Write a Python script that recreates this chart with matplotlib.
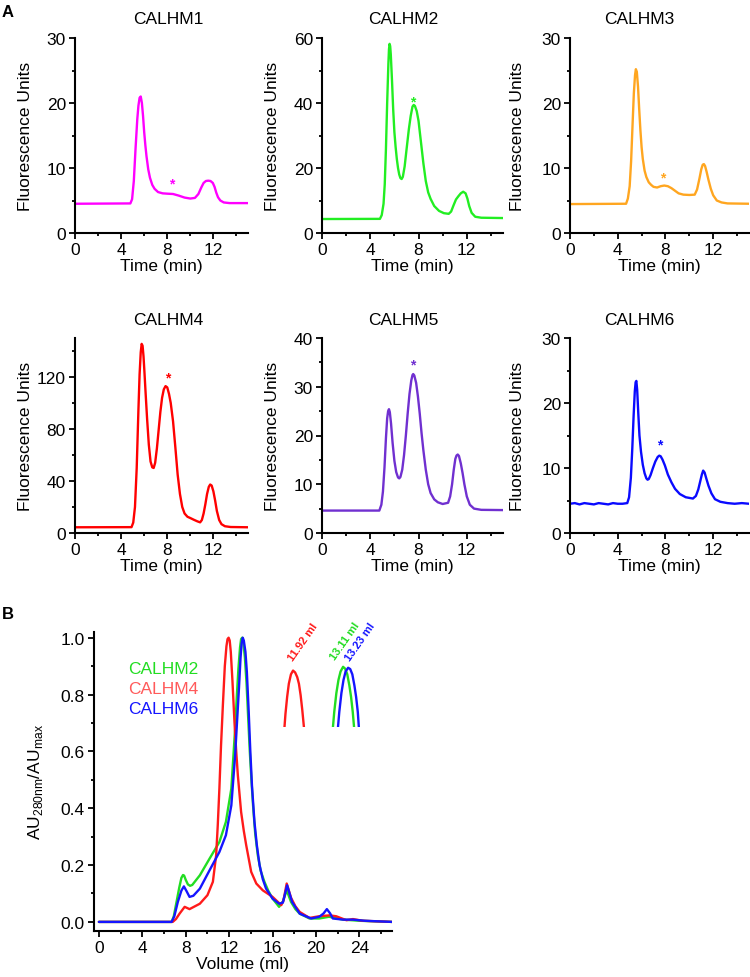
import matplotlib
matplotlib.use("Agg")
import matplotlib.pyplot as plt
from matplotlib.ticker import MultipleLocator, FormatStrFormatter

plt.rcParams["font.family"] = ["Liberation Sans", "DejaVu Sans"]
plt.rcParams["lines.solid_joinstyle"] = "round"
plt.rcParams["lines.solid_capstyle"] = "round"

# ---- panel A: FSEC traces (time in min, fluorescence units) ----
names = ["CALHM1", "CALHM2", "CALHM3", "CALHM4", "CALHM5", "CALHM6"]
colors = ["#ff00ff", "#22ee22", "#ffa620", "#ff0000", "#7030d0", "#0a0aff"]
ylims = [30, 60, 30, 150, 40, 30]
ymajor = [10, 20, 10, 40, 10, 10]

t1 = [0, 4.8, 4.95, 5.1, 5.25, 5.4, 5.5, 5.6, 5.7, 5.8, 5.9, 6.0, 6.1, 6.2, 6.35, 6.5, 6.7, 6.9, 7.2, 7.6,
      8.0, 8.5, 9.0, 9.5, 10.0, 10.4, 10.7, 10.95, 11.15, 11.35, 11.55, 11.75, 11.95, 12.1, 12.25, 12.4,
      12.6, 12.9, 13.4, 15]
f1 = [4.5, 4.55, 5.2, 8.0, 13.0, 17.5, 19.6, 20.8, 21.0, 20.0, 18.0, 15.5, 13.5, 11.8, 9.8, 8.5, 7.4, 6.8, 6.3, 6.1,
      6.05, 6.0, 5.75, 5.45, 5.3, 5.4, 6.0, 7.0, 7.7, 8.0, 8.05, 8.0, 7.7, 7.1, 6.2, 5.5,
      5.0, 4.7, 4.6, 4.6]

t2 = [0, 4.8, 4.95, 5.1, 5.2, 5.3, 5.4, 5.5, 5.55, 5.6, 5.65, 5.7, 5.8, 5.9, 6.0, 6.1, 6.2, 6.3, 6.4, 6.5,
      6.6, 6.7, 6.85, 7.0, 7.2, 7.35, 7.5, 7.6, 7.7, 7.85, 8.0, 8.2, 8.4, 8.6, 8.8, 9.0, 9.3, 9.7, 10.1, 10.5,
      10.7, 10.9, 11.1, 11.3, 11.5, 11.7, 11.9, 12.05, 12.2, 12.4, 12.7, 13.2, 15]
f2 = [4.3, 4.35, 5.5, 9.0, 15.0, 26.0, 40.0, 52.0, 56.5, 58.2, 57.5, 55.0, 47.0, 38.0, 31.0, 26.5, 22.8, 20.0, 18.0, 16.9,
      16.6, 17.3, 20.5, 25.5, 32.0, 36.0, 38.9, 39.4, 39.1, 37.5, 34.5, 28.0, 21.5, 16.0, 12.5, 10.5, 8.3, 6.8, 6.1, 5.9,
      6.6, 8.5, 10.3, 11.3, 12.2, 12.7, 12.2, 10.6, 8.3, 6.2, 5.0, 4.7, 4.6]

t3 = [0, 4.7, 4.85, 5.0, 5.12, 5.25, 5.35, 5.45, 5.52, 5.6, 5.7, 5.8, 5.9, 6.0, 6.1, 6.25, 6.4, 6.6, 6.8, 7.0,
      7.3, 7.6, 7.9, 8.2, 8.5, 8.8, 9.1, 9.5, 10.0, 10.45, 10.65, 10.85, 11.0, 11.12, 11.22, 11.32, 11.45, 11.6,
      11.8, 12.0, 12.3, 12.7, 13.2, 15]
f3 = [4.45, 4.5, 5.3, 7.2, 11.0, 17.0, 21.5, 24.3, 25.2, 24.8, 22.5, 19.0, 15.8, 13.2, 11.4, 9.6, 8.6, 7.8, 7.4, 7.1,
      7.0, 7.2, 7.3, 7.2, 6.9, 6.5, 6.1, 5.9, 5.85, 5.9, 6.7, 8.4, 9.8, 10.5, 10.6, 10.3, 9.4, 8.2,
      6.8, 5.8, 5.0, 4.7, 4.55, 4.5]

t4 = [0, 4.9, 5.05, 5.2, 5.35, 5.5, 5.6, 5.7, 5.78, 5.86, 5.94, 6.02, 6.12, 6.25, 6.4, 6.55, 6.7, 6.82, 6.95, 7.1,
      7.25, 7.4, 7.55, 7.7, 7.85, 8.0, 8.15, 8.3, 8.5, 8.7, 8.9, 9.1, 9.3, 9.5, 9.75, 10.0, 10.3, 10.6, 10.85, 11.0,
      11.15, 11.3, 11.45, 11.6, 11.72, 11.85, 12.0, 12.15, 12.3, 12.5, 12.7, 13.0, 13.5, 15]
f4 = [4.4, 4.5, 8.0, 20.0, 50.0, 95.0, 122.0, 139.0, 145.5, 144.0, 136.0, 124.0, 108.0, 88.0, 68.0, 55.0, 50.5, 50.0, 54.0, 65.0,
      79.0, 93.0, 104.0, 110.5, 113.0, 112.0, 107.0, 100.0, 86.0, 66.0, 45.0, 30.0, 20.0, 15.0, 12.5, 11.5, 10.2, 9.0, 8.2, 10.0,
      15.0, 22.0, 30.0, 35.5, 37.3, 36.5, 32.0, 25.0, 17.0, 10.0, 6.8, 5.2, 4.6, 4.4]

t5 = [0, 4.75, 4.92, 5.05, 5.18, 5.3, 5.4, 5.48, 5.55, 5.62, 5.72, 5.85, 6.0, 6.15, 6.3, 6.4, 6.5, 6.65, 6.8, 6.95,
      7.1, 7.25, 7.4, 7.5, 7.56, 7.65, 7.8, 7.95, 8.1, 8.25, 8.4, 8.6, 8.8, 9.0, 9.3, 9.6, 10.0, 10.45, 10.62, 10.78,
      10.92, 11.05, 11.15, 11.25, 11.35, 11.5, 11.65, 11.8, 12.0, 12.25, 12.6, 13.2, 15]
f5 = [4.6, 4.6, 5.8, 8.5, 13.5, 19.5, 23.5, 25.0, 25.4, 24.8, 22.5, 18.5, 14.8, 12.5, 11.4, 11.2, 11.5, 13.0, 16.0, 20.0,
      24.5, 28.5, 31.3, 32.4, 32.6, 32.3, 30.8, 28.0, 24.5, 20.5, 17.0, 13.0, 10.0, 8.2, 6.9, 6.3, 5.95, 6.2, 7.5, 10.0,
      13.0, 15.2, 15.9, 16.1, 15.8, 14.3, 12.3, 10.0, 7.5, 5.8, 5.0, 4.75, 4.7]

t6 = [0, 0.4, 0.8, 1.2, 1.6, 2.0, 2.4, 2.8, 3.2, 3.6, 4.0, 4.4, 4.8, 4.95, 5.1, 5.22, 5.33, 5.43, 5.5, 5.56,
      5.63, 5.72, 5.82, 5.95, 6.1, 6.25, 6.4, 6.5, 6.6, 6.75, 6.95, 7.15, 7.35, 7.48, 7.6, 7.75, 7.95, 8.2, 8.5, 8.8,
      9.2, 9.7, 10.3, 10.55, 10.75, 10.92, 11.05, 11.16, 11.28, 11.42, 11.6, 11.85, 12.15, 12.6, 13.2, 13.8, 14.4, 15]
f6 = [4.5, 4.6, 4.4, 4.6, 4.5, 4.4, 4.6, 4.5, 4.4, 4.6, 4.5, 4.5, 4.6, 5.5, 8.5, 13.0, 18.0, 21.8, 23.2, 23.4,
      22.0, 18.5, 15.0, 12.5, 10.5, 9.2, 8.4, 8.2, 8.3, 8.9, 10.0, 11.0, 11.7, 11.9, 11.8, 11.3, 10.4, 9.0, 7.8, 6.8,
      6.0, 5.5, 5.3, 5.7, 6.7, 8.0, 9.0, 9.6, 9.3, 8.4, 7.3, 6.1, 5.2, 4.8, 4.6, 4.5, 4.6, 4.5]

times = [t1, t2, t3, t4, t5, t6]
signals = [f1, f2, f3, f4, f5, f6]
# asterisk positions (min, FU)
star_t = [8.4, 7.5, 7.8, 8.0, 7.55, 7.55]
star_f = [7.6, 40.5, 8.6, 120.0, 34.5, 13.6]

# ---- panel B: SEC traces (volume ml, normalized A280) ----
vol_c2 = [0, 6.7, 6.9, 7.1, 7.4, 7.6, 7.75, 7.85, 8.0, 8.2, 8.4, 8.6, 9.3, 10.2, 11.1, 11.7, 12.2, 12.55, 12.7, 12.85,
          13.0, 13.1, 13.2, 13.3, 13.45, 13.6, 13.75, 13.9, 14.05, 14.2, 14.4, 14.64, 14.9, 15.25, 15.6, 16.0, 16.6,
          16.95, 17.3, 17.7, 18.1, 18.5, 19.4, 20.3, 21.2, 22.5, 24.0, 27.0]
au_c2 = [0, 0, 0.02, 0.06, 0.12, 0.155, 0.165, 0.163, 0.148, 0.132, 0.127, 0.13, 0.164, 0.223, 0.281, 0.352, 0.469, 0.68, 0.79, 0.89,
         0.965, 0.995, 1.0, 0.985, 0.93, 0.84, 0.72, 0.6, 0.5, 0.41, 0.31, 0.234, 0.18, 0.141, 0.11, 0.082, 0.053,
         0.072, 0.111, 0.07, 0.045, 0.029, 0.012, 0.012, 0.018, 0.008, 0.004, 0.0]
vol_c4 = [0, 6.8, 7.1, 7.43, 7.9, 8.35, 9.3, 10.0, 10.5, 10.8, 10.95, 11.1, 11.25, 11.42, 11.6, 11.75, 11.85, 11.95, 12.05,
          12.15, 12.3, 12.49, 12.65, 12.8, 13.1, 13.35, 13.57, 14.03, 14.5, 15.1, 16.0, 16.8, 17.0, 17.3, 17.7, 18.1,
          18.5, 19.4, 20.3, 21.24, 21.85, 22.8, 23.4, 24.3, 27.0]
au_c4 = [0, 0, 0.01, 0.029, 0.053, 0.045, 0.064, 0.094, 0.141, 0.234, 0.34, 0.469, 0.62, 0.762, 0.9, 0.97, 0.995, 1.0, 0.99,
         0.95, 0.85, 0.703, 0.6, 0.516, 0.387, 0.32, 0.27, 0.176, 0.135, 0.111, 0.088, 0.059, 0.075, 0.135, 0.085, 0.055,
         0.035, 0.014, 0.02, 0.023, 0.02, 0.006, 0.01, 0.004, 0.0]
vol_c6 = [0, 6.7, 6.95, 7.27, 7.6, 7.83, 8.05, 8.35, 8.7, 9.3, 10.2, 11.1, 11.7, 12.2, 12.55, 12.75, 12.9, 13.05, 13.15,
          13.25, 13.35, 13.5, 13.63, 13.8, 13.95, 14.1, 14.33, 14.55, 14.8, 15.1, 15.4, 16.0, 16.6, 16.95, 17.34, 17.8,
          18.5, 19.55, 20.3, 20.7, 21.0, 21.3, 21.55, 22.5, 23.4, 24.5, 27.0]
au_c6 = [0, 0, 0.02, 0.07, 0.11, 0.125, 0.11, 0.088, 0.092, 0.117, 0.182, 0.246, 0.305, 0.41, 0.586, 0.72, 0.82, 0.93, 0.98,
         1.0, 0.99, 0.95, 0.88, 0.74, 0.6, 0.48, 0.352, 0.27, 0.2, 0.15, 0.117, 0.082, 0.064, 0.068, 0.129, 0.07,
         0.029, 0.012, 0.018, 0.03, 0.045, 0.03, 0.012, 0.008, 0.008, 0.004, 0.0]

# peak-top close-ups
top_v4 = [11.70, 11.74, 11.78, 11.82, 11.87, 11.92, 11.97, 12.02, 12.06, 12.10, 12.14, 12.20]
top_a4 = [0.965, 0.977, 0.986, 0.993, 0.998, 1.0, 0.999, 0.9965, 0.993, 0.987, 0.979, 0.965]
top_v2 = [12.85, 12.90, 12.95, 13.00, 13.05, 13.11, 13.16, 13.21, 13.26, 13.30, 13.34, 13.39]
top_a2 = [0.965, 0.978, 0.988, 0.995, 0.9995, 1.002, 1.001, 0.998, 0.992, 0.986, 0.978, 0.965]
top_v6 = [12.97, 13.02, 13.07, 13.12, 13.17, 13.23, 13.28, 13.33, 13.38, 13.42, 13.46, 13.50]
top_a6 = [0.965, 0.978, 0.988, 0.995, 0.9995, 1.0015, 1.0008, 0.998, 0.992, 0.986, 0.978, 0.965]
peak_labels = ["11.92 ml", "13.11 ml", "13.23 ml"]

sec_names = ["CALHM2", "CALHM4", "CALHM6"]
sec_colors = ["#22dd22", "#ff1a1a", "#1515ff"]
sec_text_colors = ["#22dd22", "#ff5a5a", "#1515ff"]

W, H = 750, 978
LW = 1.7
fig = plt.figure(figsize=(W / 100, H / 100), dpi=100)


def px_axes(left, top, right, bottom):
    return fig.add_axes([left / W, 1 - bottom / H, (right - left) / W, (bottom - top) / H])


def style(ax, lw=1.5):
    for s in ["top", "right"]:
        ax.spines[s].set_visible(False)
    for s in ["left", "bottom"]:
        ax.spines[s].set_linewidth(lw)
    ax.tick_params(which="major", direction="out", length=4, width=1.3, labelsize=12.5, pad=2.5)
    ax.tick_params(which="minor", direction="out", length=2.5, width=1.3)


lefts = [75, 322, 570]
rights = [248, 503, 749]
title_x = [168, 403, 639]
ylabel_x = [-0.241, -0.232, -0.251]
row_tb = [(39, 234), (339, 534)]
title_y = [24, 325]

for i, name in enumerate(names):
    r, c = divmod(i, 3)
    top, bot = row_tb[r]
    ax = px_axes(lefts[c], top, rights[c], bot)
    ax.plot(times[i], signals[i], color=colors[i], lw=LW)
    ax.text(star_t[i], star_f[i], "*", color=colors[i], ha="center", va="center",
            fontsize=10, fontweight="bold")
    ax.set_xlim(0, 15)
    ax.set_ylim(0, ylims[i])
    ax.xaxis.set_major_locator(MultipleLocator(4))
    ax.xaxis.set_minor_locator(MultipleLocator(2))
    ax.yaxis.set_major_locator(MultipleLocator(ymajor[i]))
    ax.yaxis.set_minor_locator(MultipleLocator(ymajor[i] / 2))
    style(ax)
    ax.set_xlabel("Time (min)", fontsize=12.5, labelpad=1)
    ax.set_ylabel("Fluorescence Units", fontsize=12.5)
    ax.yaxis.set_label_coords(ylabel_x[c], 0.5)
    fig.text(title_x[c] / W, 1 - title_y[r] / H, name, ha="center", va="baseline", fontsize=12.5)

fig.text(2 / W, 1 - 5 / H, "A", fontsize=12, fontweight="bold", ha="left", va="top")
fig.text(2 / W, 1 - 607 / H, "B", fontsize=12, fontweight="bold", ha="left", va="top")

# ---- panel B ----
axb = px_axes(94, 633, 392, 932)
for v, a, col in zip([vol_c2, vol_c4, vol_c6], [au_c2, au_c4, au_c6], sec_colors):
    axb.plot(v, a, color=col, lw=LW)
axb.set_xlim(-0.45, 27.0)
axb.set_ylim(-0.032, 1.02)
axb.xaxis.set_major_locator(MultipleLocator(4))
axb.xaxis.set_minor_locator(MultipleLocator(2))
axb.yaxis.set_major_locator(MultipleLocator(0.2))
axb.yaxis.set_minor_locator(MultipleLocator(0.1))
axb.yaxis.set_major_formatter(FormatStrFormatter("%.1f"))
style(axb)
axb.set_xlabel("Volume (ml)", fontsize=12.5, labelpad=1)
axb.set_ylabel(r"AU$_{\mathregular{280nm}}$/AU$_{\mathregular{max}}$", fontsize=12.5)
axb.yaxis.set_label_coords(-0.164, 0.5)

for k, (nm, col) in enumerate(zip(sec_names, sec_text_colors)):
    fig.text(128 / W, 1 - (670 + 20 * k) / H, nm, color=col, fontsize=12.5,
             ha="left", va="center")

# peak close-up
axi = fig.add_axes([280 / W, 1 - 728 / H, 82 / W, 63 / H])
axi.plot(top_v4, top_a4, color=sec_colors[1], lw=LW)
axi.plot(top_v2, top_a2, color=sec_colors[0], lw=LW)
axi.plot(top_v6, top_a6, color=sec_colors[2], lw=LW)
axi.set_xlim(11.61, 13.56)
axi.set_ylim(0.97, 1.0035)
axi.axis("off")

label_pos = [(18.0, 0.915), (21.9, 0.919), (23.27, 0.915)]
label_cols = [sec_colors[1], sec_colors[0], sec_colors[2]]
for (x, y), txt, col in zip(label_pos, peak_labels, label_cols):
    axb.text(x, y, txt, color=col, fontsize=8, fontweight="bold", rotation=55,
             rotation_mode="anchor", ha="left", va="bottom")

fig.savefig("out.png", dpi=100)
